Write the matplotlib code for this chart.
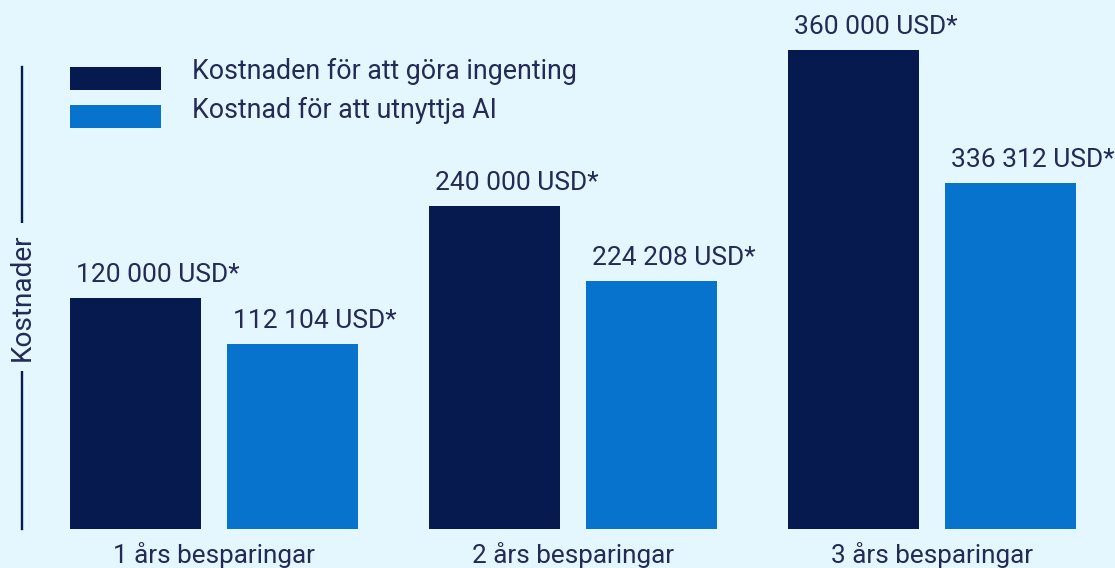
import matplotlib
matplotlib.use("Agg")
import matplotlib.pyplot as plt
from matplotlib.patches import Rectangle
from matplotlib.lines import Line2D
import numpy as np

plt.rcParams['font.family'] = ['Roboto', 'DejaVu Sans']

# data
kategorier = ["1 års besparingar", "2 års besparingar", "3 års besparingar"]
serier = ["Kostnaden för att göra ingenting", "Kostnad för att utnyttja AI"]
# bar heights as drawn in the picture (thousand USD)
hojd_ingenting = [173.6, 242.8, 360.0]
hojd_ai = [139.0, 186.4, 260.0]
etiketter_ingenting = ["120 000 USD*", "240 000 USD*", "360 000 USD*"]
etiketter_ai = ["112 104 USD*", "224 208 USD*", "336 312 USD*"]

bg = "#E4F6FE"
morkbla = "#061A4F"
bla = "#0873CD"
textfarg = "#232A55"

W, H = 1115, 568
fig = plt.figure(figsize=(W / 100, H / 100), dpi=100, facecolor=bg)
ax = fig.add_axes([0, 39 / H, 1, 1 - 39 / H])
ax.set_facecolor(bg)

x = np.arange(len(kategorier))
bw = 0.365
off = 0.2187
b1 = ax.bar(x - off, hojd_ingenting, bw, color=morkbla)
b2 = ax.bar(x + off, hojd_ai, bw, color=bla)

ax.set_xlim(-214 / 359, (W - 214) / 359)
ax.set_ylim(0, 529 * 360 / 479)
ax.axis("off")

for bars, labs in [(b1, etiketter_ingenting), (b2, etiketter_ai)]:
    for r, lab in zip(bars, labs):
        ax.annotate(lab, (r.get_x(), r.get_height()), xytext=(4, 11.5),
                    textcoords="offset points", ha="left", va="baseline",
                    fontsize=19, color=textfarg)

for xi, kat in zip(x, kategorier):
    ax.annotate(kat, (xi, 0), xycoords=("data", "axes fraction"),
                xytext=(0, -24.5), textcoords="offset points",
                ha="center", va="baseline", fontsize=18.8, color=textfarg)

# y axis line with label
fig.add_artist(Line2D([22 / W, 22 / W], [1 - 67 / H, 1 - 529 / H],
                      color=morkbla, lw=1.7, transform=fig.transFigure))
fig.text(22 / W, 1 - 297 / H, "Kostnader", rotation=90, ha="center",
         va="center", fontsize=20.2, color=textfarg,
         bbox=dict(facecolor=bg, edgecolor="none", pad=7))

# legend
for i, (namn, farg) in enumerate(zip(serier, [morkbla, bla])):
    ytop = 67 + i * 38
    fig.add_artist(Rectangle((70 / W, 1 - (ytop + 23) / H), 91 / W, 23 / H,
                             facecolor=farg, edgecolor="none",
                             transform=fig.transFigure))
    fig.text(192 / W, 1 - (79.3 + i * 39) / H, namn, ha="left",
             va="baseline", fontsize=19.3, color=textfarg)

fig.savefig("out.png", dpi=100, facecolor=bg)
